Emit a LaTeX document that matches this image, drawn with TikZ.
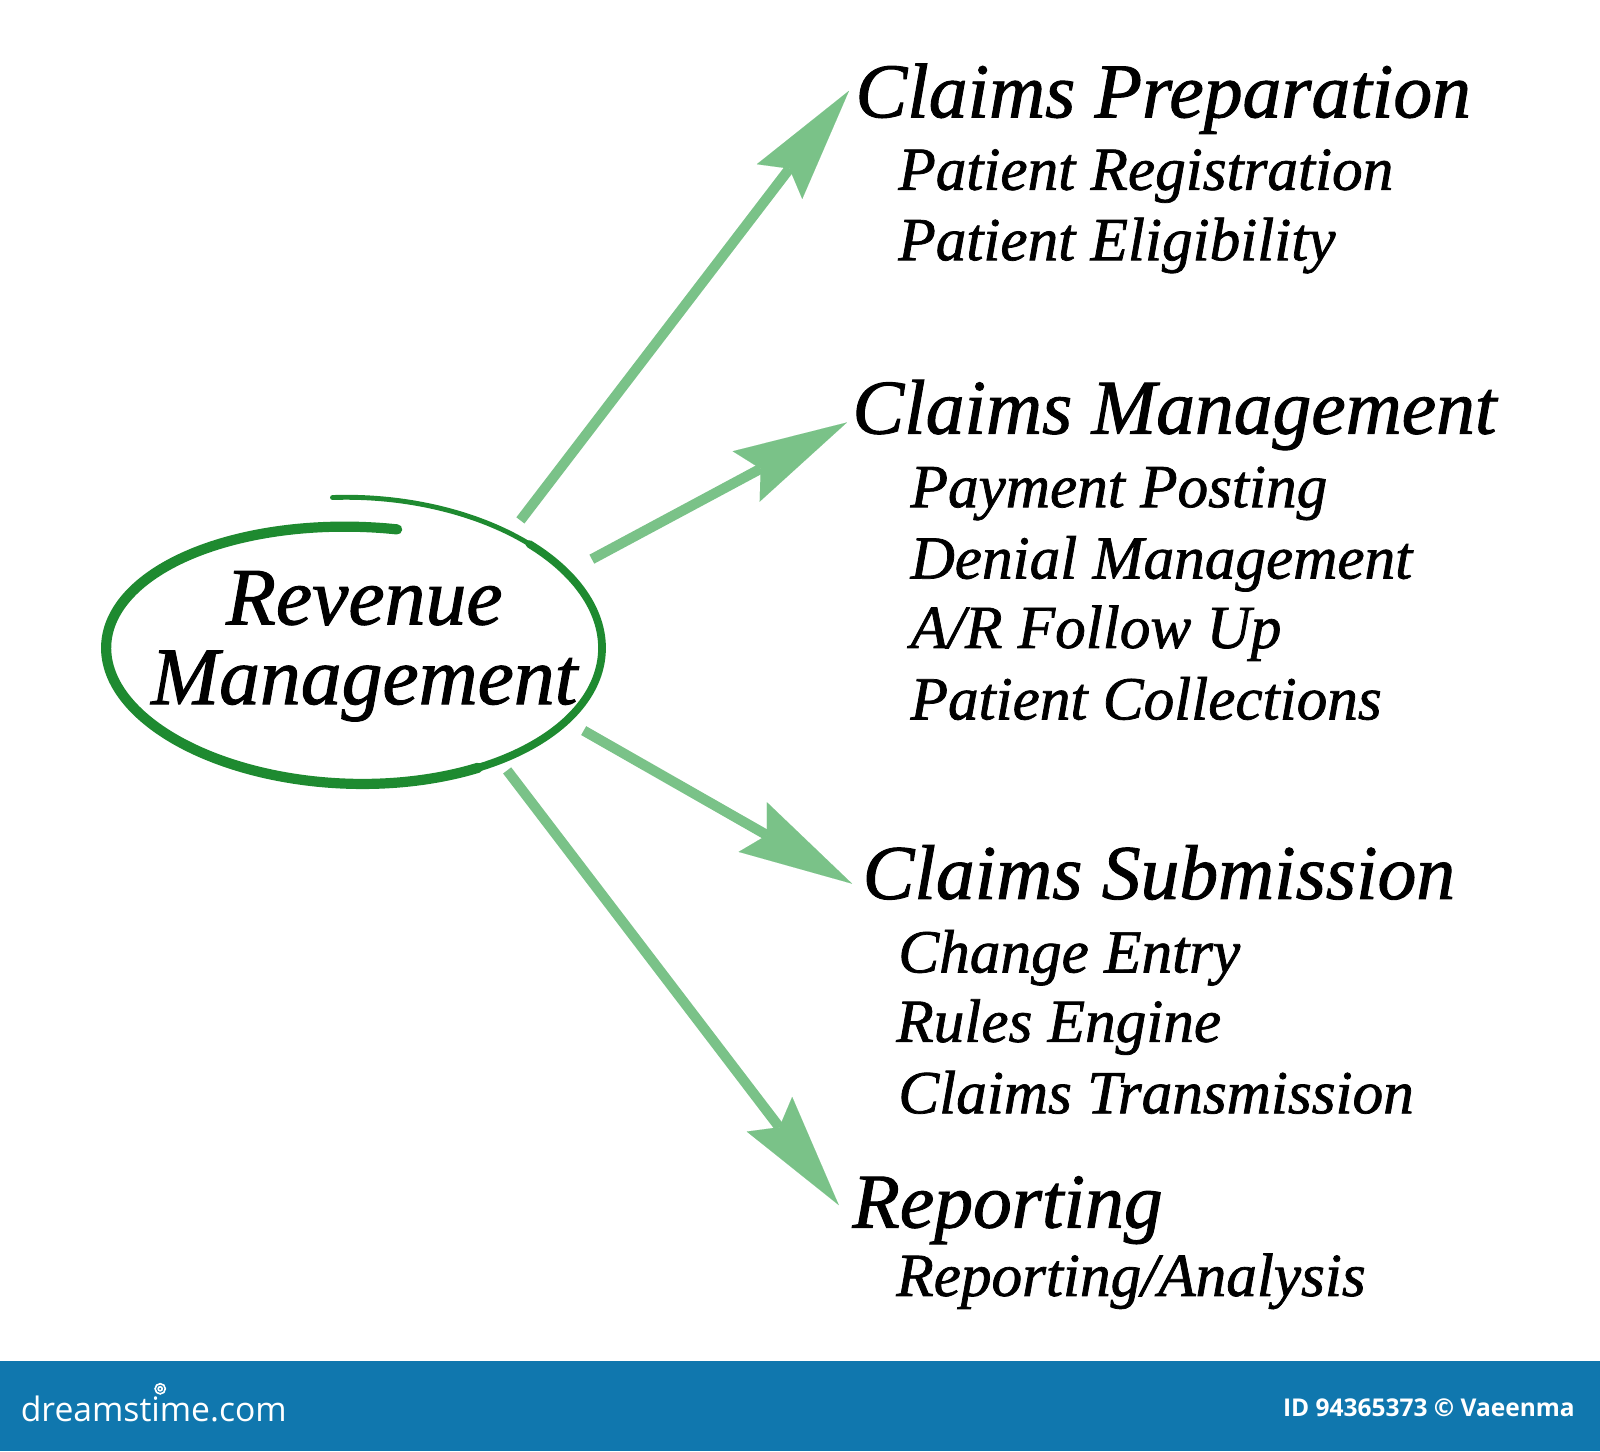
\documentclass[tikz,border=0pt]{standalone}
\usepackage{fontspec}
\setmainfont{Liberation Serif}[ItalicFeatures={FakeBold=1.2}]
\newfontfamily\barfont{Open Sans}
\usetikzlibrary{arrows.meta}

\definecolor{ringgreen}{RGB}{30,138,48}
\definecolor{arrowgreen}{RGB}{122,194,136}
\definecolor{barblue}{RGB}{16,119,174}

\tikzset{
  head/.style={anchor=base west, inner sep=0pt, font=\fontsize{38}{40}\selectfont\itshape},
  item/.style={anchor=base west, inner sep=0pt, font=\fontsize{30}{32}\selectfont\itshape},
  centre/.style={anchor=base, inner sep=0pt, font=\fontsize{40}{42}\selectfont\itshape},
  arr/.style={color=arrowgreen, line width=5pt, -{Stealth[length=56pt, width=28pt, inset=8pt, line width=0.01pt]}},
  ring/.style={color=ringgreen, line cap=round, line join=round},
  bartext/.style={anchor=base west, inner sep=0pt, text=white},
}

\begin{document}
\begin{tikzpicture}[x=0.5pt, y=-0.5pt]

\useasboundingbox (0, 0) rectangle (1568, 1422);

% hand drawn ring
\draw[ring, line width=5pt] plot[domain=80:300, samples=80, smooth] ({347+243*cos(\x)}, {635-(118+30*(\x-80)/375)*sin(\x)});
\draw[ring, line width=3.8pt] plot[domain=299:405, samples=40, smooth] ({347+243*cos(\x)}, {635-(118+30*(\x-80)/375)*sin(\x)});
\draw[ring, line width=2.4pt] plot[domain=404:455, samples=20, smooth] ({347+243*cos(\x)}, {635-(118+30*(\x-80)/375)*sin(\x)});

\node[centre] (revA) at (357, 612) {Revenue};
\node[centre] (revB) at (357, 690) {Management};

% headings
\node[head] (prep) at (838, 115) {Claims Preparation};
\node[item] (prepA) at (880, 186) {Patient Registration};
\node[item] (prepB) at (880, 255) {Patient Eligibility};

\node[head] (claim) at (835, 425) {Claims Management};
\node[item] (claimA) at (892, 497) {Payment Posting};
\node[item] (claimB) at (892, 567) {Denial Management};
\node[item] (claimC) at (892, 635) {A/R Follow Up};
\node[item] (claimD) at (892, 705) {Patient Collections};

\node[head] (subm) at (845, 881) {Claims Submission};
\node[item] (submA) at (880, 953) {Change Entry};
\node[item] (submB) at (878, 1021) {Rules Engine};
\node[item] (submC) at (880, 1091) {Claims Transmission};

\node[head] (rep) at (835, 1203) {Reporting};
\node[item] (repA) at (878, 1270) {Reporting/Analysis};

% arrows
\coordinate (s1) at (510, 510);
\coordinate (t1) at (832, 89);
\coordinate (s2) at (580, 548);
\coordinate (t2) at (830, 414);
\coordinate (s3) at (572, 716);
\coordinate (t3) at (835, 866);
\coordinate (s4) at (497, 755);
\coordinate (t4) at (822, 1181);

\draw[arr] (s1) -- (t1);
\draw[arr] (s2) -- (t2);
\draw[arr] (s3) -- (t3);
\draw[arr] (s4) -- (t4);

% bottom bar
\fill[barblue] (0, 1334) rectangle (1568, 1422);
\node[bartext, font=\barfont\fontsize{16.5}{18}\selectfont] (logo) at (20, 1393) {dreamstime.com};
\draw[white, line width=0.8pt] (157, 1361) circle (5) (157, 1361) circle (2);
\node[bartext, font=\barfont\bfseries\fontsize{12}{14}\selectfont] (id) at (1257, 1388) {ID 94365373 © Vaeenma};

\end{tikzpicture}
\end{document}
